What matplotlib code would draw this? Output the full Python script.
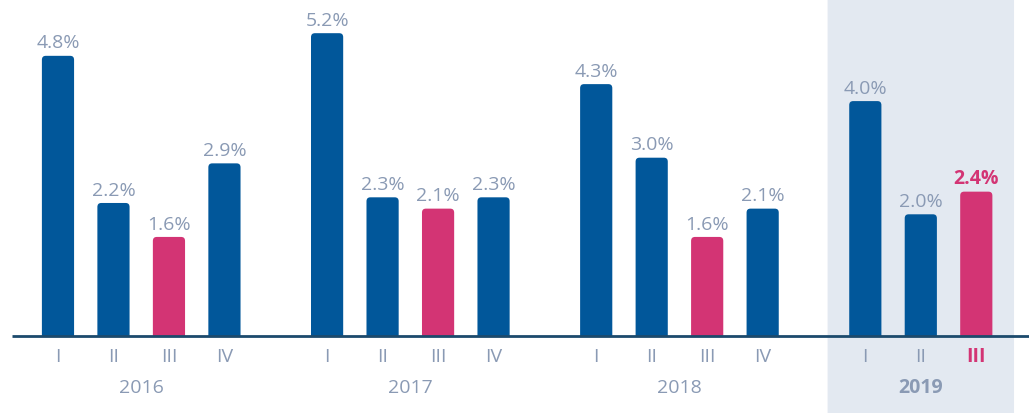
import matplotlib.pyplot as plt
from matplotlib.patches import FancyBboxPatch, Rectangle

years = ['2016', '2017', '2018', '2019']
quarters = [['I', 'II', 'III', 'IV'], ['I', 'II', 'III', 'IV'],
            ['I', 'II', 'III', 'IV'], ['I', 'II', 'III']]
values = [[4.8, 2.2, 1.6, 2.9], [5.2, 2.3, 2.1, 2.3],
          [4.3, 3.0, 1.6, 2.1], [4.0, 2.0, 2.4]]

BLUE = '#01579a'
PINK = '#d33474'
GREY = '#8a9ab4'
LINE = '#1c4a6c'
PANEL = '#e3e9f1'

plt.rcParams['font.family'] = ['Open Sans', 'DejaVu Sans']

fig = plt.figure(figsize=(10.29, 4.14), dpi=100)
ax = fig.add_axes([0, 0, 1, 1])
ax.set_xlim(-1.045, 17.5)
ax.set_ylim(-1.511, 5.804)
ax.axis('off')

base = -0.15
step = 4.85
width = 0.58
r = 0.07
fs = 14

clip = Rectangle((-2, base), 30, 10, transform=ax.transData)

for g, (yr, qs, vals) in enumerate(zip(years, quarters, values)):
    x0 = g * step
    last = g == len(years) - 1
    if last:
        cx = x0 + (len(qs) - 1) / 2
        ax.add_patch(FancyBboxPatch((cx - 1.68, -1.7), 3.36, 7.8,
                                    boxstyle='round,pad=0,rounding_size=0.12',
                                    fc=PANEL, ec='none', zorder=0))
    for i, (q, v) in enumerate(zip(qs, vals)):
        x = x0 + i
        hl = q == 'III'
        bold = last and hl
        col = PINK if hl else BLUE
        # rounded box starting below the baseline, clipped so only the top is round
        p = FancyBboxPatch((x - width / 2, base - 0.2), width, v - base + 0.2,
                           boxstyle=f'round,pad=0,rounding_size={r}',
                           fc=col, ec='none', zorder=2)
        ax.add_patch(p)
        p.set_clip_path(clip)
        ax.annotate(f'{v:.1f}%', (x, v), xytext=(0, 6), textcoords='offset points',
                    ha='center', va='baseline', fontsize=fs,
                    color=PINK if bold else GREY,
                    fontweight='bold' if bold else 'normal')
        ax.text(x, -0.504, q, ha='center', va='center', fontsize=fs,
                color=PINK if bold else GREY,
                fontweight='bold' if bold else 'normal')
    ax.text(x0 + (len(qs) - 1) / 2, -1.05, yr, ha='center', va='center',
            fontsize=fs, color=GREY, fontweight='bold' if last else 'normal')

ax.plot([-0.83, 17.5], [base, base], color=LINE, lw=2, zorder=3,
        solid_capstyle='butt')

fig.savefig('out.png', dpi=100)
